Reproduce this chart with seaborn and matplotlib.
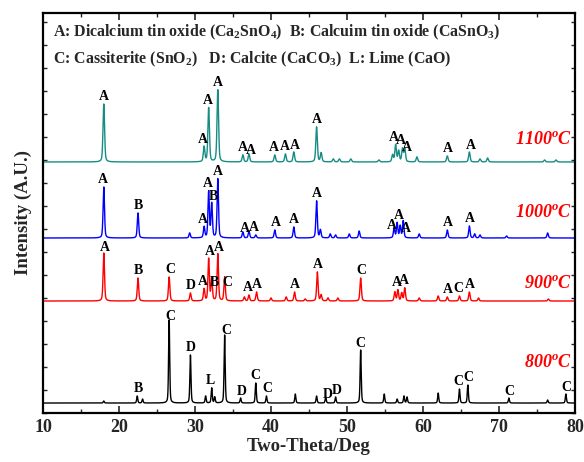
import numpy as np
import pandas as pd
import matplotlib
matplotlib.use('Agg')
import matplotlib.pyplot as plt
from matplotlib.ticker import MultipleLocator
import seaborn as sns

# peak positions (2-theta, deg) and heights (a.u.)
pos_800 = [18.0, 22.4, 23.1, 26.6, 29.4, 31.4, 32.2, 32.6, 33.9, 36.0, 38.0, 39.4,
           43.2, 46.0, 47.2, 48.5, 51.8, 54.9, 56.6, 57.5, 57.9, 62.0, 64.8, 65.9,
           71.3, 76.4, 78.8]
h_800 = [2, 7, 4, 83, 48, 7, 15, 6, 68, 5, 20, 7,
         9, 7, 6, 6, 53, 9, 4, 7, 6, 10, 14, 18,
         5, 3, 9]

pos_900 = [18.0, 22.5, 26.6, 29.4, 31.2, 31.8, 32.2, 33.0, 33.9, 36.5, 37.1, 38.1,
           40.0, 42.0, 43.1, 44.5, 46.1, 46.6, 47.5, 48.8, 51.8, 56.3, 56.7, 57.2,
           57.6, 59.5, 62.0, 63.2, 64.8, 66.1, 67.3, 76.5]
h_900 = [48, 23, 24, 8, 12, 42, 22, 47, 24, 4, 6, 9,
         3, 4, 9, 2, 29, 6, 3, 3, 23, 9, 11, 8,
         13, 3, 5, 4, 5, 9, 3, 2]

pos_1000 = [18.0, 22.5, 29.3, 31.2, 31.8, 32.2, 33.0, 36.3, 37.1, 38.0, 40.5, 43.0,
            46.0, 46.5, 47.8, 48.5, 50.3, 51.6, 56.2, 56.6, 57.0, 57.4, 59.5, 63.2,
            66.1, 66.8, 67.5, 71.0, 76.4]
h_1000 = [51, 25, 5, 11, 46, 34, 59, 6, 7, 3, 8, 11,
          37, 8, 4, 3, 4, 7, 10, 15, 12, 17, 4, 8,
          12, 4, 3, 2, 5]

pos_1100 = [18.0, 31.2, 31.8, 33.0, 36.3, 37.1, 40.5, 41.9, 43.0, 46.0, 46.6, 48.2,
            49.0, 50.5, 54.2, 56.0, 56.4, 56.8, 57.3, 57.6, 59.2, 63.2, 66.1, 67.5,
            68.5, 76.0, 77.5]
h_1100 = [58, 15, 54, 72, 7, 8, 7, 8, 10, 35, 9, 3,
          3, 3, 2, 7, 17, 11, 13, 13, 5, 6, 10, 3,
          4, 2, 2]

# phase labels: position and letter
lab_800_pos = [22.5, 26.8, 29.5, 32.0, 34.1, 36.2, 37.9, 39.5, 47.5, 48.7, 51.8, 64.7, 66.0, 71.3, 78.8]
lab_800_txt = ['B', 'C', 'D', 'L', 'C', 'D', 'C', 'C', 'D', 'D', 'C', 'C', 'C', 'C', 'C']
lab_900_pos = [18.2, 22.5, 26.7, 29.4, 31.1, 31.9, 32.5, 33.2, 34.2, 37.0, 38.1, 43.2, 46.2,
               51.9, 56.6, 57.5, 63.3, 64.7, 66.1]
lab_900_txt = ['A', 'B', 'C', 'D', 'A', 'A', 'B', 'A', 'C', 'A', 'A', 'A', 'A',
               'C', 'A', 'A', 'A', 'C', 'A']
lab_1000_pos = [17.9, 22.5, 31.0, 31.7, 32.4, 33.0, 36.6, 37.8, 40.6, 43.0, 46.1,
                55.9, 56.8, 57.8, 63.3, 66.2]
lab_1000_txt = ['A', 'B', 'A', 'A', 'B', 'A', 'A', 'A', 'A', 'A', 'A',
                'A', 'A', 'A', 'A', 'A']
lab_1100_pos = [18.0, 31.0, 31.7, 33.0, 36.3, 37.4, 40.4, 41.8, 43.2, 46.1,
                56.2, 57.1, 57.9, 63.3, 66.3]
lab_1100_txt = ['A'] * 15

temps = ['800', '900', '1000', '1100']
offsets = [10, 112, 175, 251]
colors = ['black', 'red', 'blue', '#168C84']
fwhm = [0.17, 0.22, 0.22, 0.24]

all_pos = [pos_800, pos_900, pos_1000, pos_1100]
all_h = [h_800, h_900, h_1000, h_1100]
all_lab_pos = [lab_800_pos, lab_900_pos, lab_1000_pos, lab_1100_pos]
all_lab_txt = [lab_800_txt, lab_900_txt, lab_1000_txt, lab_1100_txt]

two_theta = np.arange(10, 80.001, 0.02)


def pattern(x, pos, h, w):
    # pseudo-Voigt peaks summed on a flat background
    y = np.zeros_like(x)
    for p, a in zip(pos, h):
        u = (x - p) / w
        y += a * (0.6 * np.exp(-4 * np.log(2) * u ** 2) + 0.4 / (1 + 4 * u ** 2))
    return y


frames = []
for t, off, p, h, w in zip(temps, offsets, all_pos, all_h, fwhm):
    frames.append(pd.DataFrame({'two_theta': two_theta,
                                'intensity': off + pattern(two_theta, p, h, w),
                                'temp': t}))
df = pd.concat(frames, ignore_index=True)

sns.set_theme(style='ticks')
plt.rcParams['font.family'] = ['Liberation Serif', 'DejaVu Serif']
plt.rcParams['mathtext.fontset'] = 'custom'
plt.rcParams['mathtext.rm'] = 'Liberation Serif:bold'
plt.rcParams['mathtext.it'] = 'Liberation Serif:italic:bold'
plt.rcParams['mathtext.bf'] = 'Liberation Serif:bold'

fig = plt.figure(figsize=(5.84, 4.62), dpi=100)
ax = fig.add_axes([0.0736, 0.106, 0.911, 0.866])

sns.lineplot(data=df, x='two_theta', y='intensity', hue='temp',
             palette=dict(zip(temps, colors)), linewidth=1.0,
             estimator=None, legend=False, ax=ax)

# letter above each labelled peak
for t, off, lp, lt in zip(temps, offsets, all_lab_pos, all_lab_txt):
    y = df.loc[df['temp'] == t, 'intensity'].to_numpy()
    for xp, s in zip(lp, lt):
        near = np.abs(two_theta - xp) <= 0.2
        ax.text(xp, y[near].max() + 0.5, s, ha='center', va='bottom',
                fontsize=10, fontweight='bold', color='black')

# temperature tags
tag_y = [51, 129, 200, 273]
for t, ty in zip(temps, tag_y):
    ax.text(79.6, ty, t + '$^o$C', ha='right', va='center', fontsize=13,
            fontweight='bold', fontstyle='italic', color='red')

ax.text(0.019, 0.9525, 'A: Dicalcium tin oxide (Ca$_2$SnO$_4$)  B: Calcuim tin oxide (CaSnO$_3$)',
        transform=ax.transAxes, ha='left', va='center', fontsize=11.4, fontweight='bold')
ax.text(0.019, 0.885, 'C: Cassiterite (SnO$_2$)   D: Calcite (CaCO$_3$)  L: Lime (CaO)',
        transform=ax.transAxes, ha='left', va='center', fontsize=11.4, fontweight='bold')

ax.set_xlim(10, 80)
ax.set_ylim(0, 400)
ax.xaxis.set_major_locator(MultipleLocator(10))
ax.xaxis.set_minor_locator(MultipleLocator(5))
ax.yaxis.set_major_locator(MultipleLocator(23))
ax.tick_params(axis='x', which='major', direction='in', length=5, width=1.2,
               top=True, labelsize=13, pad=4)
ax.tick_params(axis='x', which='minor', direction='in', length=3, width=1.0, top=True)
ax.tick_params(axis='y', which='major', direction='in', length=3, width=1.0,
               right=True, labelleft=False)
for lab in ax.get_xticklabels():
    lab.set_fontweight('bold')
for sp in ax.spines.values():
    sp.set_linewidth(1.6)
    sp.set_color('black')

ax.set_xlabel('Two-Theta/Deg', fontsize=13.5, fontweight='bold', labelpad=2)
ax.set_ylabel('Intensity (A.U.)', fontsize=13.5, fontweight='bold', labelpad=8)

fig.savefig('out.png', dpi=100, facecolor='white')
